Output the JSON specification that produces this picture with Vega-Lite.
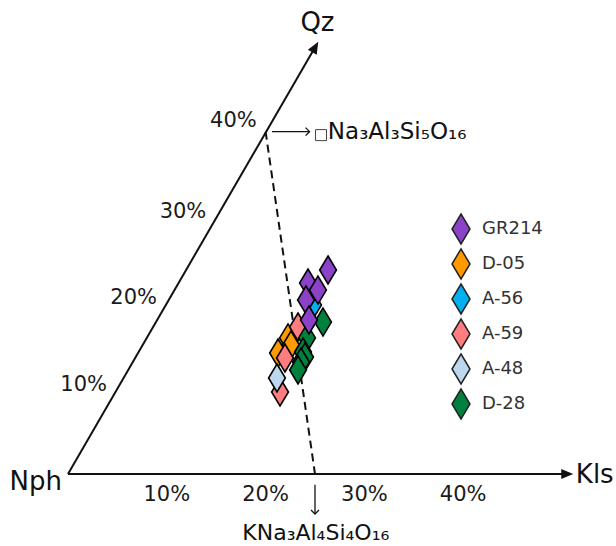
{
  "$schema": "https://vega.github.io/schema/vega-lite/v6.json",
  "width": 616,
  "height": 546,
  "autosize": {"type": "none"},
  "padding": 0,
  "background": "white",
  "config": {"view": {"stroke": null}, "font": "DejaVu Sans"},
  "datasets": {
    "axes": [
      {"x": 0, "y": 0, "x2": 50.4, "y2": 0},
      {"x": 0, "y": 0, "x2": 24.95, "y2": 43.1}
    ],
    "dashed": [{"x": 20, "y": 34.64, "x2": 25, "y2": 0}],
    "small_arrows": [
      {"x": 20.65, "y": 34.65, "x2": 24.4, "y2": 34.65},
      {"x": 25.0, "y": -1.1, "x2": 25.0, "y2": -4.0}
    ],
    "head_h": [{"x": 50.53, "y": 0}],
    "head_o": [{"x": 25.03, "y": 43.22}],
    "chev_r": [{"x": 24.45, "y": 34.65}],
    "chev_d": [{"x": 25.0, "y": -4.05}],
    "square": [{"x": 25.61, "y": 34.3}],
    "points": [
      {"x": 24.80, "y": 17.11, "sample": "A-56"},
      {"x": 22.27, "y": 13.77, "sample": "D-05"},
      {"x": 22.57, "y": 13.06, "sample": "D-05"},
      {"x": 21.26, "y": 12.25, "sample": "D-05"},
      {"x": 23.28, "y": 14.88, "sample": "A-59"},
      {"x": 21.96, "y": 11.74, "sample": "A-59"},
      {"x": 21.46, "y": 8.30, "sample": "A-59"},
      {"x": 21.15, "y": 9.72, "sample": "A-48"},
      {"x": 25.81, "y": 15.38, "sample": "D-28"},
      {"x": 24.19, "y": 13.77, "sample": "D-28"},
      {"x": 23.79, "y": 12.35, "sample": "D-28"},
      {"x": 23.99, "y": 11.84, "sample": "D-28"},
      {"x": 23.58, "y": 11.34, "sample": "D-28"},
      {"x": 23.28, "y": 10.53, "sample": "D-28"},
      {"x": 26.32, "y": 20.65, "sample": "GR214"},
      {"x": 24.29, "y": 19.33, "sample": "GR214"},
      {"x": 25.30, "y": 18.62, "sample": "GR214"},
      {"x": 24.09, "y": 17.61, "sample": "GR214"},
      {"x": 24.39, "y": 15.59, "sample": "GR214"}
    ],
    "ticks_h": [
      {"x": 10, "y": -2.13, "label": "10%"},
      {"x": 20, "y": -2.13, "label": "20%"},
      {"x": 30, "y": -2.13, "label": "30%"},
      {"x": 40, "y": -2.13, "label": "40%"}
    ],
    "ticks_o": [
      {"x": 3.95, "y": 8.96, "label": "10%"},
      {"x": 9.01, "y": 17.81, "label": "20%"},
      {"x": 14.0, "y": 26.5, "label": "30%"},
      {"x": 19.1, "y": 35.7, "label": "40%"}
    ],
    "lab_right": [{"x": -0.61, "y": -0.81, "label": "Nph"}],
    "lab_kls": [{"x": 51.4, "y": -0.1, "label": "Kls"}],
    "lab_formula1": [{"x": 26.3, "y": 34.65, "label": "Na₃Al₃Si₅O₁₆"}],
    "lab_center": [
      {"x": 25.25, "y": 45.65, "label": "Qz"}
    ],
    "lab_formula2": [
      {"x": 25.08, "y": -5.95, "label": "KNa₃Al₄Si₄O₁₆"}
    ]
  },
  "encoding": {
    "x": {"field": "x", "type": "quantitative", "axis": null, "scale": {"domain": [-6.883, 55.466], "nice": false, "zero": false}},
    "y": {"field": "y", "type": "quantitative", "axis": null, "scale": {"domain": [-7.287, 47.976], "nice": false, "zero": false}}
  },
  "layer": [
    {
      "data": {"name": "axes"},
      "mark": {"type": "rule", "strokeWidth": 2, "color": "#111111"},
      "encoding": {"x2": {"field": "x2"}, "y2": {"field": "y2"}}
    },
    {
      "data": {"name": "dashed"},
      "mark": {"type": "rule", "strokeWidth": 2, "color": "#111111", "strokeDash": [8, 5]},
      "encoding": {"x2": {"field": "x2"}, "y2": {"field": "y2"}}
    },
    {
      "data": {"name": "small_arrows"},
      "mark": {"type": "rule", "strokeWidth": 1.3, "color": "#111111"},
      "encoding": {"x2": {"field": "x2"}, "y2": {"field": "y2"}}
    },
    {
      "data": {"name": "head_h"},
      "mark": {"type": "point", "shape": "M1,0L-1,-0.85L-1,0.85Z", "size": 144, "filled": true, "color": "#111111", "opacity": 1, "angle": 0}
    },
    {
      "data": {"name": "head_o"},
      "mark": {"type": "point", "shape": "M1,0L-1,-0.85L-1,0.85Z", "size": 144, "filled": true, "color": "#111111", "opacity": 1, "angle": 300}
    },
    {
      "data": {"name": "chev_r"},
      "mark": {"type": "point", "shape": "M-1,-1L0,0L-1,1", "size": 64, "filled": false, "stroke": "#111111", "strokeWidth": 1.3, "opacity": 1, "angle": 0}
    },
    {
      "data": {"name": "chev_d"},
      "mark": {"type": "point", "shape": "M-1,-1L0,0L-1,1", "size": 64, "filled": false, "stroke": "#111111", "strokeWidth": 1.3, "opacity": 1, "angle": 90}
    },
    {
      "data": {"name": "square"},
      "mark": {"type": "point", "shape": "square", "size": 121, "filled": false, "stroke": "#444444", "strokeWidth": 1, "opacity": 1}
    },
    {
      "data": {"name": "points"},
      "mark": {"type": "point", "shape": "M0,-1L0.6,0L0,1L-0.6,0Z", "size": 784, "filled": true, "stroke": "#000000", "strokeWidth": 1.6, "opacity": 1},
      "encoding": {
        "color": {
          "field": "sample", "type": "nominal",
          "scale": {
            "domain": ["GR214", "D-05", "A-56", "A-59", "A-48", "D-28"],
            "range": ["#8C42C8", "#FF9900", "#00B0F0", "#FF7C80", "#BDD7EE", "#00803D"]
          },
          "legend": {
            "title": null,
            "orient": "none",
            "legendX": 445,
            "legendY": 213,
            "padding": 0,
            "symbolType": "M0,-1L0.6,0L0,1L-0.6,0Z",
            "symbolSize": 900,
            "symbolStrokeColor": "#222222",
            "symbolStrokeWidth": 1.5,
            "symbolOpacity": 1,
            "rowPadding": -1,
            "labelOffset": 5,
            "labelFontSize": 18,
            "labelFont": "DejaVu Sans",
            "labelColor": "#333333"
          }
        }
      }
    },
    {
      "data": {"name": "ticks_h"},
      "mark": {"type": "text", "fontSize": 21, "align": "center", "baseline": "middle", "color": "#1a1a1a"},
      "encoding": {"text": {"field": "label"}}
    },
    {
      "data": {"name": "ticks_o"},
      "mark": {"type": "text", "fontSize": 21, "align": "right", "baseline": "middle", "color": "#1a1a1a"},
      "encoding": {"text": {"field": "label"}}
    },
    {
      "data": {"name": "lab_right"},
      "mark": {"type": "text", "fontSize": 26, "align": "right", "baseline": "middle", "color": "#111111"},
      "encoding": {"text": {"field": "label"}}
    },
    {
      "data": {"name": "lab_kls"},
      "mark": {"type": "text", "fontSize": 26, "align": "left", "baseline": "middle", "color": "#111111"},
      "encoding": {"text": {"field": "label"}}
    },
    {
      "data": {"name": "lab_formula1"},
      "mark": {"type": "text", "fontSize": 23, "align": "left", "baseline": "middle", "color": "#111111"},
      "encoding": {"text": {"field": "label"}}
    },
    {
      "data": {"name": "lab_center"},
      "mark": {"type": "text", "fontSize": 26, "align": "center", "baseline": "middle", "color": "#111111"},
      "encoding": {"text": {"field": "label"}}
    },
    {
      "data": {"name": "lab_formula2"},
      "mark": {"type": "text", "fontSize": 22, "align": "center", "baseline": "middle", "color": "#111111"},
      "encoding": {"text": {"field": "label"}}
    }
  ]
}
